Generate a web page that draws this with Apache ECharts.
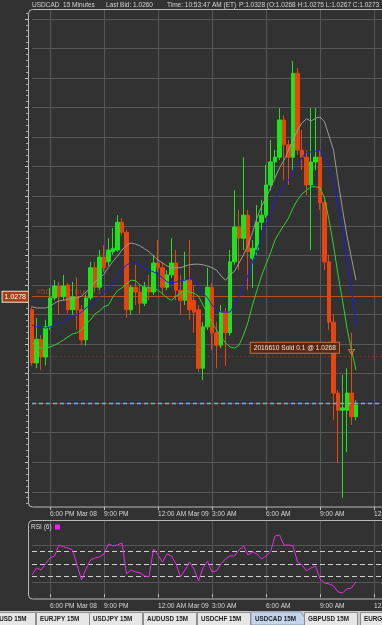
<!DOCTYPE html>
<html><head><meta charset="utf-8">
<script src="https://cdn.jsdelivr.net/npm/echarts@6/dist/echarts.min.js"></script>
<style>html,body{margin:0;padding:0;background:#323232;}#c{width:382px;height:625px;}</style>
</head><body><div id="c"></div>
<script>
// ---- data ----
const opens = [1.02758,1.02668,1.02708,1.02678,1.02729,1.02778,1.02798,1.02780,1.02800,1.02758,
1.02780,1.02758,1.02707,1.02778,1.02829,1.02796,1.02847,1.02839,1.02856,1.02859,
1.02906,1.02889,1.02758,1.02796,1.02788,1.02769,1.02796,1.02788,1.02837,1.02829,
1.02796,1.02817,1.02837,1.02791,1.02774,1.02808,1.02774,1.02758,1.02659,1.02729,
1.02796,1.02719,1.02698,1.02754,1.02719,1.02839,1.02898,1.02879,1.02918,1.02845,
1.02859,1.02906,1.02918,1.02969,1.03008,1.03016,1.03079,1.03037,1.03016,1.03158,
1.03028,1.03016,1.02969,1.03008,1.03016,1.02939,1.02839,1.02737,1.02617,1.02588,
1.02588,1.02617,1.02577];
const closes = [1.02668,1.02708,1.02678,1.02729,1.02778,1.02798,1.02780,1.02798,1.02758,1.02780,
1.02758,1.02707,1.02778,1.02829,1.02796,1.02847,1.02829,1.02859,1.02862,1.02906,
1.02889,1.02758,1.02796,1.02788,1.02769,1.02796,1.02788,1.02837,1.02829,1.02796,
1.02817,1.02837,1.02791,1.02774,1.02808,1.02758,1.02754,1.02659,1.02729,1.02796,
1.02719,1.02698,1.02754,1.02719,1.02839,1.02898,1.02879,1.02918,1.02856,1.02862,
1.02906,1.02918,1.02969,1.03008,1.03016,1.03079,1.03037,1.03016,1.03158,1.03028,
1.03016,1.02969,1.03008,1.03016,1.02939,1.02839,1.02737,1.02617,1.02588,1.02592,
1.02617,1.02577,1.02597];
const lows = [1.02663,1.02659,1.02656,1.02664,1.02724,1.02774,1.02749,1.02774,1.02752,1.02749,
1.02724,1.02698,1.02697,1.02774,1.02788,1.02791,1.02822,1.02832,1.02851,1.02856,
1.02884,1.02744,1.02749,1.02766,1.02751,1.02764,1.02774,1.02783,1.02822,1.02783,
1.02791,1.02812,1.02774,1.02749,1.02766,1.02741,1.02719,1.02653,1.02639,1.02724,
1.02690,1.02659,1.02693,1.02663,1.02714,1.02834,1.02825,1.02859,1.02791,1.02795,
1.02851,1.02893,1.02913,1.02960,1.02981,1.03011,1.02977,1.02969,1.02994,1.03020,
1.02994,1.02952,1.02859,1.02994,1.02927,1.02825,1.02724,1.02571,1.02499,1.02440,
1.02517,1.02563,1.02571];
const highs = [1.02764,1.02744,1.02715,1.02741,1.02795,1.02808,1.02805,1.02817,1.02803,1.02805,
1.02813,1.02766,1.02783,1.02839,1.02839,1.02859,1.02867,1.02879,1.02896,1.02918,
1.02913,1.02893,1.02800,1.02834,1.02800,1.02805,1.02817,1.02851,1.02876,1.02839,
1.02825,1.02879,1.02859,1.02817,1.02856,1.02876,1.02800,1.02766,1.02737,1.02829,
1.02803,1.02737,1.02766,1.02761,1.02859,1.02960,1.02927,1.03016,1.02927,1.02876,
1.02935,1.02944,1.03003,1.03045,1.03028,1.03099,1.03087,1.03045,1.03179,1.03167,
1.03062,1.03028,1.03099,1.03099,1.03028,1.02947,1.02851,1.02749,1.02622,1.02648,
1.02659,1.02719,1.02605];
const maGray = [1.02763,1.02761,1.02761,1.02761,1.02764,1.02769,1.02773,1.02774,1.02776,1.02778,
1.02778,1.02781,1.02788,1.02796,1.02805,1.02812,1.02818,1.02830,1.02840,1.02849,
1.02859,1.02867,1.02871,1.02869,1.02866,1.02861,1.02856,1.02849,1.02842,1.02837,
1.02832,1.02829,1.02829,1.02829,1.02832,1.02834,1.02835,1.02835,1.02834,1.02832,
1.02829,1.02825,1.02815,1.02808,1.02817,1.02823,1.02837,1.02851,1.02867,1.02889,
1.02913,1.02933,1.02947,1.02964,1.02981,1.02998,1.03011,1.03028,1.03045,1.03062,
1.03074,1.03081,1.03077,1.03082,1.03084,1.03076,1.03052,1.03028,1.02977,1.02928,
1.02883,1.02845,1.02808];
const maBlue = [1.02732,1.02729,1.02729,1.02727,1.02729,1.02732,1.02736,1.02739,1.02744,1.02747,
1.02749,1.02754,1.02761,1.02766,1.02773,1.02781,1.02788,1.02795,1.02803,1.02813,
1.02825,1.02834,1.02837,1.02837,1.02834,1.02829,1.02825,1.02822,1.02818,1.02812,
1.02805,1.02803,1.02805,1.02807,1.02808,1.02812,1.02808,1.02800,1.02786,1.02778,
1.02766,1.02758,1.02754,1.02754,1.02754,1.02766,1.02781,1.02796,1.02817,1.02839,
1.02859,1.02879,1.02901,1.02918,1.02944,1.02957,1.02967,1.02977,1.02991,1.03004,
1.03015,1.03025,1.03025,1.03026,1.03028,1.03018,1.02999,1.02974,1.02935,1.02893,
1.02842,1.02791,1.02732];
const maGreen = [1.02702,1.02697,1.02693,1.02692,1.02695,1.02698,1.02702,1.02707,1.02712,1.02717,
1.02719,1.02724,1.02734,1.02741,1.02751,1.02756,1.02763,1.02766,1.02780,1.02790,
1.02795,1.02801,1.02808,1.02807,1.02800,1.02796,1.02795,1.02795,1.02791,1.02785,
1.02778,1.02774,1.02781,1.02786,1.02791,1.02788,1.02786,1.02781,1.02766,1.02751,
1.02736,1.02724,1.02712,1.02702,1.02695,1.02693,1.02698,1.02715,1.02737,1.02766,
1.02791,1.02815,1.02835,1.02854,1.02876,1.02889,1.02901,1.02913,1.02930,1.02944,
1.02954,1.02960,1.02966,1.02966,1.02964,1.02947,1.02910,1.02867,1.02817,1.02774,
1.02727,1.02690,1.02656];
const rsi6 = [31.6,43.2,39.9,49.8,59.6,62.9,81.0,77.8,76.1,72.8,
48.1,23.4,41.5,56.3,59.6,61.3,66.2,82.7,79.4,81.0,
84.3,33.3,39.9,36.6,34.9,30.0,28.4,74.4,64.6,53.0,
66.2,62.9,49.8,28.4,39.9,53.0,41.5,21.8,43.2,54.7,
36.6,38.2,49.8,58.0,62.9,62.9,72.8,79.4,64.6,69.5,
66.2,58.0,62.9,69.5,95.8,97.5,81.0,81.0,79.4,53.0,
48.1,38.2,43.2,46.5,25.1,18.5,16.8,13.6,3.7,2.0,
8.6,10.3,20.1];
const rsiLevels = [30, 50, 70];
const tickTimes = ['18:00','21:00','00:00','03:00','06:00','09:00','12:00'];
const tickTexts = ['6:00 PM Mar 08','9:00 PM','12:00 AM Mar 09','3:00 AM','6:00 AM','9:00 AM','12:00 PM'];
const lastBid = 1.0260;
const buyOrder = {price: 1.0278, bar: '17:15', label: '#5634817 Buy 0.1'};
const sellTrade = {price: 1.0268, bar: '10:45', label: '2016610 Sold 0.1 @ 1.0268'};
const headerParts = ['USDCAD  15 Minutes','Last Bid: 1.0260','Time: 10:53:47 AM (ET)','P:1.0328 (O:1.0268 H:1.0275 L:1.0267 C:1.0273'];
const tabNames = ['EURUSD 15M','EURJPY 15M','USDJPY 15M','AUDUSD 15M','USDCHF 15M','USDCAD 15M','GBPUSD 15M','EURGBP 15M'];

// ---- categories: 15-minute bars from 17:00 ----
const categories = [];
for (let k = 0; k < 80; k++) {
  const m = 17 * 60 + k * 15;
  const h = Math.floor(m / 60) % 24, mm = m % 60;
  categories.push(String(h).padStart(2, '0') + ':' + String(mm).padStart(2, '0'));
}
const candles = opens.map((o, i) => [o, closes[i], lows[i], highs[i]]);
const majors = [], minors = [];
for (let v = 10243; v <= 10326; v++) { (v % 5 === 0 ? majors : minors).push(v / 10000); }

const FONT = "'Liberation Sans',Arial,sans-serif";
const GRIDC = '#565656';
const isTick = (idx, val) => tickTimes.indexOf(val) >= 0;
const fmtTick = (val) => { const k = tickTimes.indexOf(val); return k >= 0 ? tickTexts[k] : ''; };

function xAxisFor(gi) {
  return {
    type: 'category', gridIndex: gi, data: categories, boundaryGap: false,
    axisLine: {show: false},
    axisTick: {show: true, interval: isTick, length: 3, lineStyle: {color: '#bdbdbd'}},
    axisLabel: {interval: isTick, formatter: fmtTick, align: 'left', color: '#d6d6d6',
      fontSize: 6.6, fontFamily: FONT, margin: 4, hideOverlap: false},
    splitLine: {show: true, interval: isTick, lineStyle: {color: GRIDC, width: 1}}
  };
}
const yMin = 1.024243, yMax = 1.032667;

const chart = echarts.init(document.getElementById('c'), null, {renderer: 'canvas'});
const tabX = [-18, 36, 89, 143, 197, 251, 304, 360];
const tabGraphics = [{type: 'rect', shape: {x: 0, y: 611, width: 382, height: 14}, style: {fill: '#c9c9c9'}}];
tabNames.forEach((n, k) => {
  const active = n === 'USDCAD 15M';
  if (active) {
    tabGraphics.push({type: 'polygon', shape: {points: [[tabX[k], 625], [tabX[k], 612], [tabX[k] + 50, 612], [tabX[k] + 58, 625]]},
      style: {fill: '#c3d4ec', stroke: '#8d98a8', lineWidth: 1}});
  } else {
    tabGraphics.push({type: 'rect', shape: {x: tabX[k] + 0.5, y: 612.5, width: 53, height: 13},
      style: {fill: '#e6e6e6', stroke: '#8e8e8e', lineWidth: 1}});
  }
  tabGraphics.push({type: 'text', x: tabX[k] + 4, y: 619.5,
    style: {text: n, fill: '#1c1c1c', font: "bold 6.3px " + FONT, textVerticalAlign: 'middle'}});
});
const headerX = [32, 106, 167, 239];

chart.setOption({
  animation: false,
  backgroundColor: '#323232',
  grid: [
    {left: 32, top: 9, width: 355.5, height: 498, outerBoundsMode: 'none', containLabel: false},
    {left: 32, top: 521, width: 355.5, height: 78, outerBoundsMode: 'none', containLabel: false}
  ],
  xAxis: [xAxisFor(0), xAxisFor(1)],
  yAxis: [
    {type: 'value', gridIndex: 0, min: yMin, max: yMax, position: 'left', offset: 4,
      axisLine: {show: false}, axisLabel: {show: false},
      axisTick: {show: true, customValues: majors, length: 3, lineStyle: {color: '#c8c8c8'}},
      splitLine: {show: true, lineStyle: {color: GRIDC, width: 1}}},
    {type: 'value', gridIndex: 0, min: yMin, max: yMax, position: 'left', offset: 4,
      axisLine: {show: false}, axisLabel: {show: false},
      axisTick: {show: true, customValues: minors, length: 2, lineStyle: {color: '#a8a8a8'}},
      splitLine: {show: false}},
    {type: 'value', gridIndex: 1, min: -8, max: 120.5,
      axisLine: {show: false}, axisLabel: {show: false},
      axisTick: {show: false, customValues: [20, 80]},
      splitLine: {show: true, lineStyle: {color: GRIDC, width: 1}}}
  ],
  series: [
    {type: 'candlestick', xAxisIndex: 0, yAxisIndex: 0, data: candles, barWidth: 4, clip: false, z: 3,
      itemStyle: {color: '#1ee21e', color0: '#e8440f', borderColor: '#1ee21e', borderColor0: '#e8440f', borderWidth: 1},
      markPoint: {z: 1, silent: true, animation: false,
        data: [{coord: [buyOrder.bar, buyOrder.price], symbol: 'rect', symbolSize: 0,
          label: {show: true, position: 'right', distance: 0, offset: [0, -4.5], formatter: buyOrder.label,
            color: '#93442a', fontSize: 8, fontFamily: FONT}}]},
      markLine: {z: 1, silent: true, precision: 6, symbol: ['none', 'none'], animation: false,
        data: [
          {yAxis: buyOrder.price, lineStyle: {color: '#b4501c', type: 'solid', width: 1},
            label: {show: true, position: 'start', distance: 4, formatter: buyOrder.price.toFixed(4),
              color: '#ffffff', fontSize: 7, fontFamily: FONT, backgroundColor: '#a8401a',
              borderColor: '#f0e0d8', borderWidth: 1, padding: [2, 2, 1, 2]}},
          {yAxis: sellTrade.price, lineStyle: {color: '#6e3a22', type: [2, 2], width: 1},
            label: {show: false}}
        ]}},
    {type: 'line', xAxisIndex: 0, yAxisIndex: 0, data: maGray, symbol: 'none', clip: false, z: 4,
      lineStyle: {color: '#9a9a9a', width: 1}},
    {type: 'line', xAxisIndex: 0, yAxisIndex: 0, data: maBlue, symbol: 'none', clip: false, z: 4,
      lineStyle: {color: '#1d1de6', width: 1},
      markLine: {z: 6, silent: true, precision: 6, symbol: ['none', 'none'], animation: false,
        data: [{yAxis: lastBid, lineStyle: {color: '#4cc0f4', type: [4, 3], width: 1.3, opacity: 1}, label: {show: false}}]}},
    {type: 'line', xAxisIndex: 0, yAxisIndex: 0, data: maGreen, symbol: 'none', clip: false, z: 4,
      lineStyle: {color: '#2fd02f', width: 1},
      markPoint: {z: 7, silent: true, animation: false,
        data: [{coord: [sellTrade.bar, sellTrade.price], symbol: 'triangle', symbolRotate: 180,
          symbolSize: [6, 5], symbolOffset: [0, -4],
          itemStyle: {color: 'rgba(0,0,0,0)', borderColor: '#d8733a', borderWidth: 1},
          label: {show: true, position: 'left', distance: 9, offset: [0, -4], formatter: sellTrade.label,
            color: '#f2e4da', fontSize: 6.6, fontFamily: FONT, backgroundColor: '#5a2814',
            borderColor: '#c8703c', borderWidth: 1, padding: [2, 3, 1, 3]}}]}},
    {type: 'line', xAxisIndex: 1, yAxisIndex: 2, data: rsi6, symbol: 'none', z: 4,
      lineStyle: {color: '#e02ee0', width: 1},
      markLine: {z: 3, silent: true, precision: 3, symbol: ['none', 'none'], animation: false,
        data: rsiLevels.map(v => ({yAxis: v, lineStyle: {color: '#cfcfcf', type: [5, 3], width: 1}, label: {show: false}}))}}
  ],
  graphic: [
    {type: 'rect', z: 10, shape: {x: 28.5, y: 9.5, width: 400, height: 497.5, r: 4},
      style: {fill: 'none', stroke: '#b9b9b9', lineWidth: 1}},
    {type: 'rect', z: 10, shape: {x: 28.5, y: 520.5, width: 400, height: 78.5, r: 4},
      style: {fill: 'none', stroke: '#b9b9b9', lineWidth: 1}},
    {type: 'text', z: 10, x: 31, y: 527, style: {text: 'RSI (6)', fill: '#dcdcdc', font: '6.5px ' + FONT, textVerticalAlign: 'middle'}},
    {type: 'rect', z: 10, shape: {x: 55, y: 524.5, width: 5, height: 5}, style: {fill: '#ee22ee'}},
    ...headerParts.map((t, k) => ({type: 'text', z: 10, x: headerX[k], y: 5,
      style: {text: t, fill: '#d4d4d4', font: '6.5px ' + FONT, textVerticalAlign: 'middle'}})),
    ...tabGraphics.map(g => Object.assign({z: 10}, g))
  ]
});
</script></body></html>
